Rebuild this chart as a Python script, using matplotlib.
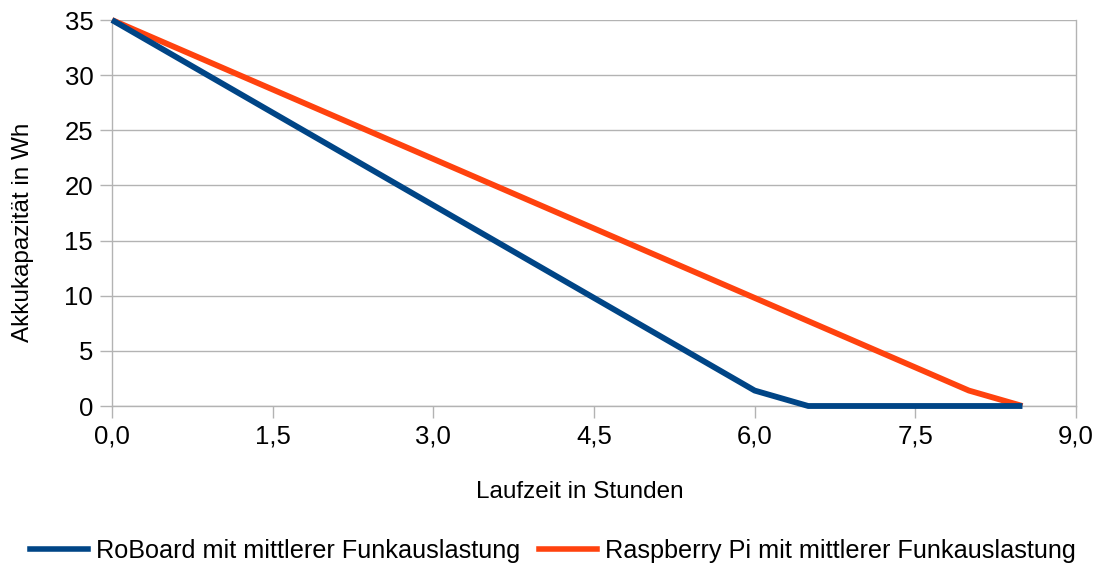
import matplotlib
matplotlib.use("Agg")
import matplotlib.pyplot as plt
from matplotlib.lines import Line2D

plt.rcParams['font.family'] = ['Liberation Sans', 'DejaVu Sans']

hours_roboard = [0.0, 6.0, 6.5, 8.5]
wh_roboard = [35.0, 1.4, 0.0, 0.0]
hours_rpi = [0.0, 8.0, 8.5]
wh_rpi = [35.0, 1.4, 0.0]
series_names = ["RoBoard mit mittlerer Funkauslastung",
                "Raspberry Pi mit mittlerer Funkauslastung"]
xticks = [0.0, 1.5, 3.0, 4.5, 6.0, 7.5, 9.0]
yticks = [0, 5, 10, 15, 20, 25, 30, 35]

blue = "#004586"
orange = "#FF420E"

fig = plt.figure(figsize=(11.03, 5.68), dpi=100)
ax = fig.add_axes([112/1103, 1-406/568, (1076-112)/1103, (406-20)/568])

ax.plot(hours_roboard, wh_roboard, color=blue, lw=4.2, solid_capstyle='butt',
        zorder=3, clip_on=False)
ax.plot(hours_rpi, wh_rpi, color=orange, lw=4.2, solid_capstyle='butt',
        zorder=2, clip_on=False)

ax.set_xlim(0, 9)
ax.set_ylim(0, 35)
ax.set_xticks(xticks)
ax.set_xticklabels([f"{v:.1f}".replace('.', ',') for v in xticks])
ax.set_yticks(yticks)
ax.yaxis.grid(True, color='#b3b3b3', lw=1)
ax.set_axisbelow(True)
ax.spines['top'].set_visible(False)
for s in ['left', 'bottom', 'right']:
    ax.spines[s].set_color('#b3b3b3')
    ax.spines[s].set_linewidth(1)
ax.tick_params(axis='both', colors='#b3b3b3', length=8.5, width=1, labelsize=18.5,
               labelcolor='black')
ax.tick_params(axis='x', pad=5)
ax.tick_params(axis='y', pad=5)
ax.set_xlabel("Laufzeit in Stunden", fontsize=17.5, va='center')
ax.xaxis.set_label_coords((580-112)/964, (406-492)/386)
ax.set_ylabel("Akkukapazität in Wh", fontsize=17.5, va='center')
ax.yaxis.set_label_coords((23-112)/964, (406-232)/386)

handles = [Line2D([], [], color=blue, lw=4), Line2D([], [], color=orange, lw=4)]
fig.legend(handles, series_names, loc='center', bbox_to_anchor=(553/1103, 1-551/568),
           ncol=2, frameon=False, fontsize=18.2, handlelength=2.3,
           handletextpad=0.3, columnspacing=0.75)

fig.savefig("out.png", dpi=100)
